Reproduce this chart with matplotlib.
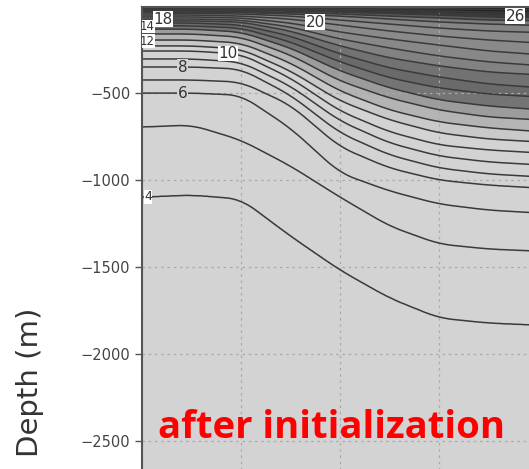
import numpy as np
import matplotlib
matplotlib.use('Agg')
import matplotlib.pyplot as plt
from matplotlib.colors import ListedColormap, BoundaryNorm

# section positions (grid units) and isotherm depths (m)
x_pos = [0, 0.5, 1.0, 1.5, 2.0, 2.5, 3.0, 3.5, 4.2]
surface_temp = 28.0
bottom_temp = 3.2
bottom_depth = 3000

iso_26 = [9, 9, 12, 14, 17, 20, 26, 32, 37]
iso_25 = [14, 14, 17, 20, 23, 29, 35, 43, 49]
iso_24 = [20, 20, 23, 26, 32, 40, 49, 60, 66]
iso_23 = [26, 26, 29, 35, 43, 55, 66, 78, 83]
iso_22 = [32, 32, 35, 43, 55, 72, 89, 101, 112]
iso_21 = [37, 40, 43, 55, 78, 101, 124, 141, 153]
iso_20 = [49, 49, 55, 72, 107, 141, 170, 193, 216]
iso_19 = [60, 60, 66, 95, 147, 187, 222, 256, 285]
iso_18 = [72, 72, 78, 118, 187, 239, 285, 319, 348]
iso_17 = [83, 83, 89, 141, 227, 296, 342, 377, 400]
iso_16 = [95, 95, 106, 170, 273, 354, 406, 446, 475]
iso_15 = [109, 112, 124, 204, 319, 411, 469, 504, 527]
iso_14 = [130, 130, 147, 239, 371, 469, 538, 573, 602]
iso_13 = [158, 158, 176, 279, 429, 527, 596, 636, 659]
iso_12 = [193, 193, 210, 325, 487, 596, 665, 699, 728]
iso_11 = [227, 227, 245, 371, 544, 653, 728, 763, 786]
iso_10 = [256, 256, 274, 412, 602, 722, 797, 826, 849]
iso_9 = [302, 302, 320, 458, 659, 786, 861, 895, 918]
iso_8 = [348, 348, 360, 510, 728, 855, 930, 964, 987]
iso_7 = [423, 423, 435, 567, 809, 930, 999, 1028, 1051]
iso_6 = [498, 498, 510, 700, 959, 1062, 1137, 1172, 1195]
iso_5 = [694, 682, 769, 918, 1097, 1264, 1367, 1396, 1413]
iso_4 = [1097, 1085, 1108, 1321, 1517, 1678, 1793, 1822, 1839]

iso_temps = [26, 25, 24, 23, 22, 21, 20, 19, 18, 17, 16, 15, 14, 13, 12, 11, 10, 9, 8, 7, 6, 5, 4]
iso_depths = [iso_26, iso_25, iso_24, iso_23, iso_22, iso_21, iso_20, iso_19, iso_18, iso_17,
              iso_16, iso_15, iso_14, iso_13, iso_12, iso_11, iso_10, iso_9, iso_8, iso_7,
              iso_6, iso_5, iso_4]

label_levels = [18, 20, 26, 14, 12, 10, 8, 6, 4]

# temperature field on the section: isotherms carried across a fine x grid
xf = np.linspace(0, 4.2, 421)
win = 31
kern = np.ones(win) / win
iso_fine = []
for iso in iso_depths:
    lin = np.interp(xf, x_pos, iso)
    padded = np.concatenate([np.full(win // 2, lin[0]), lin, np.full(win // 2, lin[-1])])
    iso_fine.append(np.convolve(padded, kern, mode='valid'))
iso_fine = np.array(iso_fine)

depth = np.linspace(0, bottom_depth, 1201)
temp = np.empty((len(depth), len(xf)))
for j in range(len(xf)):
    d = np.concatenate([[0], iso_fine[:, j], [bottom_depth]])
    t = [surface_temp] + iso_temps + [bottom_temp]
    temp[:, j] = np.interp(depth, d, t)

X, Z = np.meshgrid(xf, -depth)

fill_levels = [3] + list(range(11, 29))
grays = ['#d3d3d3', '#c9c9c9', '#b4b4b4', '#9c9c9c', '#747474', '#6a6a6a', '#727272',
         '#828282', '#888888', '#8a8a8a', '#8a8a8a', '#858585', '#7a7a7a', '#5a5a5a',
         '#3a3a3a', '#2a2a2a', '#222222', '#1a1a1a']
cmap = ListedColormap(grays)
norm = BoundaryNorm(fill_levels, cmap.N)

fig = plt.figure(figsize=(5.29, 4.69), dpi=100)
ax = fig.add_axes([142 / 529, 1 - (6.5 + 6 * 86.85) / 469, 4.2 * 99 / 529, 6 * 86.85 / 469])

ax.contourf(X, Z, temp, levels=fill_levels, cmap=cmap, norm=norm)
cs = ax.contour(X, Z, temp, levels=list(range(4, 28)), colors='#3a3a3a', linewidths=1.1)

label_spots = {18: (0.21, -72), 20: (1.75, -85), 26: (3.77, -35), 14: (0.05, -128),
               12: (0.05, -196), 10: (0.87, -262), 8: (0.41, -348), 6: (0.41, -498),
               4: (0.06, -1097)}
label_shift = {26: -22, 14: 14, 12: -6}
label_sizes = {18: 11, 20: 11, 26: 11, 14: 8.5, 12: 8.5, 10: 11, 8: 11, 6: 11, 4: 9}
for lev in label_levels:
    cl = ax.contour(X, Z, temp, levels=[lev], linewidths=0)
    txts = cl.clabel(inline=False, fmt='%d', fontsize=label_sizes[lev],
                     manual=[label_spots[lev]], colors='#333333')
    face = '#d3d3d3' if lev in (8, 6) else 'white'
    for tx in txts:
        tx.set_rotation(0)
        px, py = tx.get_position()
        tx.set_position((px, py + label_shift.get(lev, 0)))
        tx.set_bbox(dict(facecolor=face, edgecolor='none', pad=0.2))
        tx.set_zorder(5)

ax.set_xlim(0, 4.2)
ax.set_ylim(-3000, 0)
ax.set_xticks([0, 1, 2, 3, 4])
ax.set_yticks([-500, -1000, -1500, -2000, -2500])
ax.set_yticklabels(['\u2212500', '\u22121000', '\u22121500', '\u22122000', '\u22122500'])
ax.tick_params(axis='y', length=5, width=1, colors='#555555', labelsize=10.5, labelcolor='#444444')
ax.tick_params(axis='x', labelbottom=False, length=0)
ax.grid(True, ls=(0, (2, 3)), color='#aaaaaa', lw=0.9)
for s in ['left', 'top']:
    ax.spines[s].set_color('#555555')
    ax.spines[s].set_linewidth(1.5)

fig.text(30 / 529, 1 - 382 / 469, 'Depth (m)', rotation=90, ha='center', va='center',
         fontsize=21, color='#333333')
fig.text(332 / 529, 31 / 469, 'after initialization', ha='center', va='baseline',
         fontsize=27.5, color='red', fontweight='bold', family=['Open Sans', 'DejaVu Sans'])

fig.savefig('out.png', dpi=100)
